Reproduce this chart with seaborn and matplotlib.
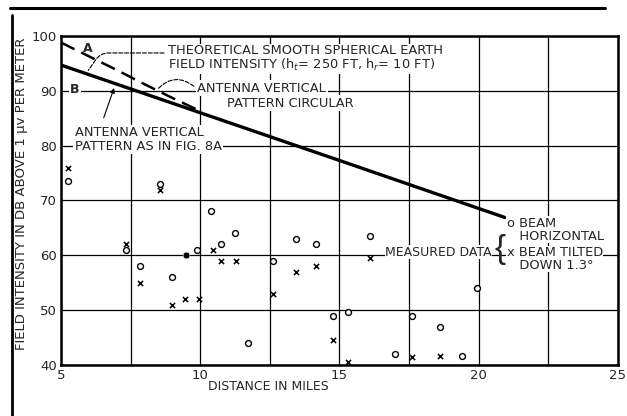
import matplotlib
matplotlib.use('Agg')
import matplotlib.pyplot as plt
from matplotlib.lines import Line2D
import pandas as pd
import seaborn as sns

# Curves
dist_b = [5.0, 10.0, 15.0, 20.94]
field_b = [94.7, 86.0, 77.3, 66.9]          # antenna vertical pattern as in fig 8A
dist_a = [5.0, 6.0, 7.0, 8.0, 9.0, 10.0]
field_a = [98.8, 96.3, 93.8, 91.2, 88.7, 86.3]  # theoretical, circular pattern

# Measured data, beam horizontal (o)
horiz_dist = [5.25, 7.35, 7.85, 8.55, 9.0, 9.9, 10.4, 10.75, 11.25, 11.7, 12.6,
              13.45, 14.15, 14.75, 15.3, 16.1, 17.0, 17.6, 18.6, 19.4, 19.95]
horiz_field = [73.5, 61, 58, 73, 56, 61, 68, 62, 64, 44, 59,
               63, 62, 49, 49.6, 63.6, 42, 49, 47, 41.7, 54]
# Measured data, beam tilted down 1.3 deg (x)
tilt_dist = [5.25, 7.35, 7.85, 8.55, 9.0, 9.45, 9.95, 10.45, 10.75, 11.3, 12.6,
             13.45, 14.15, 14.75, 15.3, 16.1, 17.6, 18.6]
tilt_field = [76, 62, 55, 72, 51, 52, 52, 61, 59, 59, 53,
              57, 58, 44.5, 40.6, 59.6, 41.5, 41.7]
# both markers on top of each other
both_dist = [9.5]
both_field = [60]

x_ticks = [5, 7.5, 10, 12.5, 15, 17.5, 20, 22.5, 25]
x_labels = ['5', '', '10', '', '15', '', '20', '', '25']
y_ticks = [40, 50, 60, 70, 80, 90, 100]

sns.set_style('white')
plt.rcParams['font.family'] = ['DejaVu Sans']

fig = plt.figure(figsize=(6.27, 4.16), dpi=100)
ax = fig.add_axes([0.0973, 0.1226, 0.8883, 0.7909])

df_b = pd.DataFrame({'d': dist_b, 'f': field_b})
df_a = pd.DataFrame({'d': dist_a, 'f': field_a})
sns.lineplot(data=df_b, x='d', y='f', ax=ax, color='black', lw=2.4, zorder=4)
sns.lineplot(data=df_a, x='d', y='f', ax=ax, color='black', lw=1.8,
             dashes=False, zorder=4).lines[-1].set_dashes([6, 3])

sns.scatterplot(x=horiz_dist, y=horiz_field, ax=ax, marker='o', s=18,
                facecolor='white', edgecolor='black', linewidth=1.0, zorder=5)
sns.scatterplot(x=tilt_dist, y=tilt_field, ax=ax, marker='x', s=14,
                color='black', linewidth=1.1, zorder=5)
sns.scatterplot(x=both_dist, y=both_field, ax=ax, marker='o', s=24,
                color='black', zorder=5)

ax.set_xlim(5, 25)
ax.set_ylim(40, 100)
ax.set_xticks(x_ticks)
ax.set_xticklabels(x_labels)
ax.set_yticks(y_ticks)
ax.tick_params(length=0, labelsize=9.5, pad=3)
ax.grid(True, color='black', lw=0.9)
for s in ax.spines.values():
    s.set_linewidth(1.8)
    s.set_color('black')
ax.set_xlabel('DISTANCE IN MILES', fontsize=9)
ax.xaxis.set_label_coords(0.373, -0.045)
ax.set_ylabel('FIELD INTENSITY IN DB ABOVE 1 \u03bcv PER METER', fontsize=9.5)
ax.yaxis.set_label_coords(-0.059, 0.52)

box = dict(facecolor='white', edgecolor='none', pad=1.0)
small_box = dict(facecolor='white', edgecolor='none', pad=0.2)
fs = 9.4

ax.text(8.84, 95.9, 'THEORETICAL SMOOTH SPHERICAL EARTH\nFIELD INTENSITY (h$_t$= 250 FT, h$_r$= 10 FT)',
        fontsize=fs, ha='left', va='center', linespacing=0.95, bbox=box, zorder=6)
ax.annotate('', xy=(5.92, 93.3), xytext=(8.8, 96.9),
            arrowprops=dict(arrowstyle='-', ls='--', lw=0.8, color='black',
                            connectionstyle='angle,angleA=0,angleB=55,rad=8'), zorder=6)

ax.text(9.9, 90.5, 'ANTENNA VERTICAL', fontsize=fs, ha='left', va='center', bbox=box, zorder=6)
ax.text(15.5, 87.7, 'PATTERN CIRCULAR', fontsize=fs, ha='right', va='center', bbox=box, zorder=6)
ax.annotate('', xy=(8.4, 89.9), xytext=(9.85, 90.5),
            arrowprops=dict(arrowstyle='-', ls='--', lw=0.8, color='black',
                            connectionstyle='arc3,rad=0.5'), zorder=6)

ax.text(5.5, 81.1, 'ANTENNA VERTICAL\nPATTERN AS IN FIG. 8A', fontsize=fs, ha='left',
        va='center', linespacing=1.05, bbox=box, zorder=6)
ax.annotate('', xy=(6.94, 91.0), xytext=(6.5, 84.6),
            arrowprops=dict(arrowstyle='-|>', lw=0.8, color='black',
                            mutation_scale=7), zorder=6)

ax.text(5.97, 97.8, 'A', fontsize=9, fontweight='bold', ha='center', va='center', zorder=6)
ax.text(5.5, 90.2, 'B', fontsize=9, fontweight='bold', ha='center', va='center',
        bbox=box, zorder=6)

ax.text(16.65, 60.6, 'MEASURED DATA', fontsize=9, ha='left', va='center', bbox=small_box, zorder=6)
ax.text(20.77, 61.0, '{', fontsize=24, fontweight='light', ha='center', va='center',
        family='Liberation Sans', zorder=6)
ax.text(21.0, 64.7, 'o BEAM\n   HORIZONTAL', fontsize=fs, ha='left', va='center',
        linespacing=1.0, bbox=small_box, zorder=6)
ax.text(21.0, 59.3, 'x BEAM TILTED\n   DOWN 1.3\u00b0', fontsize=fs, ha='left', va='center',
        linespacing=1.0, bbox=small_box, zorder=6)

# page frame lines
fig.add_artist(Line2D([0.016, 0.965], [0.981, 0.981], color='black', lw=2.2))
fig.add_artist(Line2D([0.019, 0.019], [0.0, 0.965], color='black', lw=2.0))

fig.savefig('out.png', dpi=100)
